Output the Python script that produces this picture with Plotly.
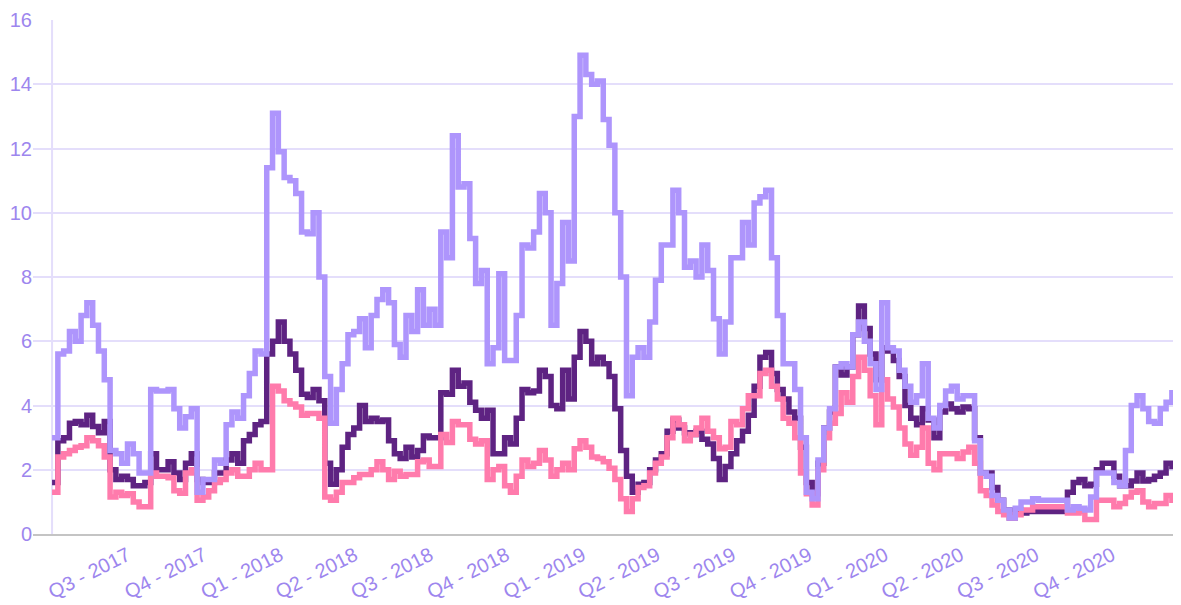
import pandas as pd
import plotly.graph_objects as go

# weekly samples starting 2017-04-01
start_date = "2017-04-01"
n_points = 196

series_light = [
    3.0, 5.6, 5.7, 6.3, 6.0, 6.8, 7.2, 6.5, 5.7, 4.8,
    2.6, 2.5, 2.2, 2.8, 2.5, 1.9, 1.9, 4.5, 4.45, 4.45,
    4.5, 3.9, 3.3, 3.65, 3.9, 1.3, 1.7, 1.7, 2.3, 2.2,
    3.4, 3.8, 3.6, 4.3, 5.0, 5.7, 5.6, 11.4, 13.1, 11.9,
    11.1, 11.0, 10.6, 9.4, 9.35, 10.0, 8.0, 4.9, 3.45, 4.5,
    5.3, 6.2, 6.3, 6.7, 5.8, 6.8, 7.3, 7.6, 7.2, 5.9,
    5.5, 6.8, 6.3, 7.6, 6.5, 7.0, 6.5, 9.4, 8.6, 12.4,
    10.8, 10.9, 9.2, 7.8, 8.2, 5.3, 5.8, 8.1, 5.4, 5.4,
    6.8, 9.0, 8.9, 9.4, 10.6, 10.0, 6.5, 7.8, 9.7, 8.5,
    13.0, 14.9, 14.3, 14.0, 14.1, 12.9, 12.1, 10.0, 8.0, 4.3,
    5.5, 5.8, 5.5, 6.6, 7.9, 9.0, 9.0, 10.7, 10.0, 8.3,
    8.5, 8.0, 9.0, 8.2, 6.7, 5.6, 6.6, 8.6, 8.6, 9.7,
    9.0, 10.3, 10.5, 10.7, 8.6, 6.8, 5.3, 5.3, 4.5, 3.0,
    1.3, 1.1, 2.3, 3.3, 3.9, 5.2, 5.3, 5.2, 6.2, 6.6,
    6.0, 5.3, 4.5, 7.2, 5.8, 5.7, 5.1, 4.6, 4.1, 4.3,
    5.3, 3.6, 3.3, 4.0, 4.45, 4.6, 4.2, 4.3, 4.3, 2.9,
    1.9, 1.8, 1.2, 1.05, 0.75, 0.5, 0.8, 1.0, 1.0, 1.1,
    1.05, 1.05, 1.05, 1.05, 1.05, 0.75, 0.85, 0.8, 0.75, 1.15,
    1.9, 1.9, 1.9, 1.6, 1.5, 2.6, 4.0, 4.3, 3.9, 3.5,
    3.45, 3.9, 4.1, 4.4, 3.5, 4.0,
]

series_dark = [
    1.6, 2.9, 3.0, 3.45, 3.5, 3.4, 3.7, 3.35, 3.15, 3.5,
    2.0, 1.7, 1.8, 1.7, 1.5, 1.5, 1.6, 2.5, 2.0, 2.0,
    2.25, 1.9, 1.7, 2.2, 2.5, 1.7, 1.6, 1.6, 1.9, 1.9,
    2.3, 2.5, 2.2, 2.9, 3.1, 3.4, 3.5, 5.6, 6.0, 6.6,
    6.0, 5.6, 5.1, 4.35, 4.25, 4.5, 4.15, 2.2, 1.55, 2.0,
    2.7, 3.1, 3.3, 4.0, 3.5, 3.6, 3.5, 3.55, 2.9, 2.5,
    2.35, 2.7, 2.4, 2.6, 3.05, 3.0, 3.0, 4.4, 4.35, 5.1,
    4.6, 4.7, 4.1, 3.85, 3.6, 3.85, 2.5, 2.5, 3.0, 2.8,
    3.6, 4.5, 4.4, 4.45, 5.1, 4.9, 4.0, 3.9, 5.1, 4.2,
    5.5, 6.3, 6.0, 5.3, 5.5, 5.3, 4.9, 3.9, 2.6, 1.8,
    1.3, 1.55, 1.6, 2.0, 2.3, 2.5, 3.2, 3.55, 3.3, 3.15,
    3.1, 3.2, 2.95, 2.8, 2.35, 1.7, 2.1, 2.5, 2.9, 3.2,
    3.7, 4.6, 5.5, 5.65, 5.0, 4.5, 4.2, 3.8, 3.6, 2.7,
    1.6, 1.25, 2.2, 3.3, 3.8, 5.2, 4.95, 5.2, 6.2, 7.1,
    6.4, 5.6, 4.8, 5.8, 5.7, 5.4, 4.9, 4.0, 3.6, 3.4,
    3.9, 3.55, 3.0, 3.8, 4.05, 3.9, 3.8, 3.95, 3.9, 3.0,
    1.9, 1.9, 1.45, 1.05, 0.75, 0.5, 0.75, 0.65, 0.7, 0.7,
    0.7, 0.7, 0.7, 0.7, 0.7, 1.3, 1.6, 1.7, 1.5, 1.55,
    2.0, 2.2, 2.2, 1.8, 1.5, 1.5, 1.65, 1.9, 1.65, 1.7,
    1.8, 1.9, 2.2, 2.1, 2.4, 2.6,
]

series_pink = [
    1.3, 2.4, 2.5, 2.6, 2.7, 2.75, 3.0, 2.9, 2.75, 2.4,
    1.15, 1.3, 1.2, 1.25, 1.0, 0.85, 0.85, 1.9, 1.8, 1.8,
    1.75, 1.35, 1.27, 1.9, 2.0, 1.05, 1.15, 1.35, 1.6, 1.7,
    1.9, 2.0, 1.8, 1.8, 2.0, 2.2, 2.0, 2.0, 4.6, 4.45,
    4.15, 4.05, 3.95, 3.7, 3.75, 3.75, 3.6, 1.15, 1.05, 1.3,
    1.6, 1.6, 1.75, 1.85, 1.85, 2.0, 2.25, 2.0, 1.7, 1.95,
    1.8, 1.85, 1.85, 2.25, 2.3, 2.1, 2.1, 3.1, 2.85, 3.5,
    3.4, 3.4, 2.95, 2.8, 2.9, 1.7, 2.0, 2.1, 1.5, 1.3,
    1.8, 2.3, 2.1, 2.2, 2.6, 2.3, 1.8, 2.0, 2.2, 2.0,
    2.65, 2.9, 2.7, 2.4, 2.35, 2.25, 2.05, 1.7, 1.1, 0.7,
    1.1, 1.45, 1.5, 1.9, 2.2, 2.4, 3.0, 3.6, 3.4, 2.9,
    3.1, 3.3, 3.6, 3.2, 3.0, 2.65, 2.7, 3.5, 3.4, 3.9,
    4.3, 4.3, 5.0, 5.1, 4.6, 4.2, 3.6, 3.45, 3.0, 1.9,
    1.25, 0.9, 2.0, 3.0, 3.45, 3.75, 4.4, 4.1, 4.9, 5.5,
    5.1, 4.3, 3.4, 4.8, 4.2, 3.95, 3.3, 2.8, 2.45, 2.7,
    3.3, 2.2, 2.0, 2.5, 2.5, 2.5, 2.35, 2.55, 2.7, 2.2,
    1.35, 1.2, 0.9, 0.7, 0.6, 0.5, 0.6, 0.75, 0.75, 0.85,
    0.85, 0.85, 0.85, 0.85, 0.85, 0.65, 0.65, 0.7, 0.45, 0.45,
    1.05, 1.05, 1.05, 0.85, 0.95, 1.15, 1.3, 1.35, 1.0, 0.85,
    0.95, 0.95, 1.2, 1.05, 1.15, 1.5,
]

tick_dates = ["2017-07-01", "2017-10-01", "2018-01-01", "2018-04-01",
              "2018-07-01", "2018-10-01", "2019-01-01", "2019-04-01",
              "2019-07-01", "2019-10-01", "2020-01-01", "2020-04-01",
              "2020-07-01", "2020-10-01"]
tick_labels = ["Q3 - 2017", "Q4 - 2017", "Q1 - 2018", "Q2 - 2018",
               "Q3 - 2018", "Q4 - 2018", "Q1 - 2019", "Q2 - 2019",
               "Q3 - 2019", "Q4 - 2019", "Q1 - 2020", "Q2 - 2020",
               "Q3 - 2020", "Q4 - 2020"]

dates = pd.date_range(start_date, periods=n_points, freq="7D")

COL_LIGHT = "#ae95fc"
COL_DARK = "#5e2382"
COL_PINK = "#ff7bac"
TXT = "#9d86ee"
GRID = "#e4defb"

fig = go.Figure()
for vals, col in [(series_dark, COL_DARK), (series_pink, COL_PINK), (series_light, COL_LIGHT)]:
    fig.add_trace(go.Scatter(x=dates, y=vals, mode="lines",
                             line=dict(color=col, width=5.5, shape="hv"),
                             showlegend=False))

fig.add_shape(type="line", xref="x", yref="paper", x0=dates[0], x1=dates[0],
              y0=0, y1=1, line=dict(color=GRID, width=2), layer="below")

# page body adds an 8px offset, so the figure is sized/margined to compensate
fig.update_layout(
    width=1173, height=597,
    margin=dict(l=25, r=0, t=12, b=71, pad=0),
    paper_bgcolor="white", plot_bgcolor="white",
    font=dict(family="Liberation Sans, Arial, sans-serif", size=20, color=TXT),
    xaxis=dict(type="date", range=["2017-03-09", "2020-12-23"],
               tickmode="array", tickvals=tick_dates, ticktext=tick_labels,
               tickangle=-27, showgrid=False, zeroline=False, automargin=False,
               showline=True, linecolor="#c4c4c4", linewidth=2,
               ticks="", ticklen=0,
               tickfont=dict(size=20, color=TXT)),
    yaxis=dict(range=[0, 16], dtick=2, showgrid=True, gridcolor=GRID,
               gridwidth=2, zeroline=False, showline=False, automargin=False,
               ticks="", ticklen=0,
               tickfont=dict(size=20, color=TXT)),
)

fig.write_html("out.html")
